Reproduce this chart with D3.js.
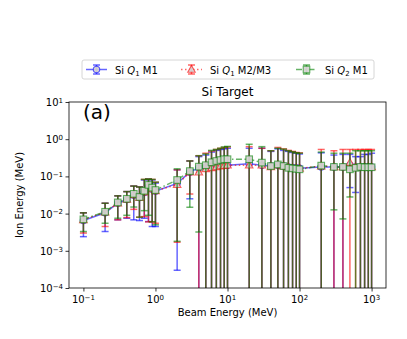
<!DOCTYPE html>
<html>
<head>
<meta charset="utf-8">
<script src="https://cdn.jsdelivr.net/npm/d3@7"></script>
<style>
  body { margin: 0; background: #fff; }
  text { font-family: "DejaVu Sans", sans-serif; fill: #000; }
</style>
</head>
<body>
<svg id="chart" width="407" height="339"></svg>
<script>
// beam energies (MeV)
const beamEnergy = [0.1, 0.2, 0.3, 0.4, 0.5, 0.6, 0.7, 0.8, 0.9, 1,
  2, 3, 4, 5, 6, 7, 8, 9, 10,
  20, 30, 40, 50, 60, 70, 80, 90, 100,
  200, 300, 400, 500, 600, 700, 800, 900, 1000];

// Si Q1 M1 (blue)
const q1m1Ion = [0.0065, 0.0105, 0.019, 0.024, 0.031, 0.027, 0.037, 0.052, 0.045, 0.040,
  0.065, 0.13, 0.17, 0.18, 0.19, 0.2, 0.2, 0.2, 0.2,
  0.22, 0.2, 0.19, 0.2, 0.19, 0.18, 0.17, 0.17, 0.165,
  0.18, 0.18, 0.18, 0.2, 0.18, 0.18, 0.18, 0.18, 0.18];
const q1m1High = [0.0105, 0.019, 0.030, 0.039, 0.055, 0.052, 0.080, 0.085, 0.080, 0.066,
  0.15, 0.26, 0.34, 0.375, 0.45, 0.5, 0.53, 0.55, 0.57,
  0.57, 0.57, 0.47, 0.55, 0.5, 0.47, 0.44, 0.42, 0.4,
  0.43, 0.375, 0.39, 0.39, 0.34, 0.34, 0.39, 0.39, 0.42];
const q1m1Low = [0.0024, 0.0033, 0.0068, 0.0075, 0.0068, 0.0065, 0.0075, 0.0061, 0.0045, 0.0045,
  0.0003, 0.025, 0, 0, 0, 0, 0, 0, 0,
  0, 0, 0, 0, 0, 0, 0, 0, 0,
  0, 0, 0, 0.05, 0.037, 0, 0, 0, 0];

// Si Q1 M2/M3 (red)
const q1m23Ion = [0.0068, 0.011, 0.019, 0.024, 0.032, 0.027, 0.038, 0.054, 0.046, 0.041,
  0.06, 0.13, 0.13, 0.16, 0.17, 0.18, 0.19, 0.195, 0.2,
  0.2, 0.2, 0.18, 0.2, 0.19, 0.18, 0.17, 0.17, 0.165,
  0.19, 0.18, 0.18, 0.235, 0.18, 0.18, 0.18, 0.18, 0.18];
const q1m23High = [0.0105, 0.019, 0.030, 0.039, 0.055, 0.052, 0.083, 0.085, 0.083, 0.070,
  0.15, 0.26, 0.36, 0.42, 0.48, 0.53, 0.57, 0.6, 0.62,
  0.63, 0.57, 0.49, 0.6, 0.55, 0.5, 0.47, 0.44, 0.43,
  0.53, 0.49, 0.53, 0.53, 0.53, 0.53, 0.53, 0.53, 0.53];
const q1m23Low = [0.003, 0.0045, 0.0068, 0.0078, 0.013, 0.008, 0.0083, 0.006, 0.006, 0.0055,
  0.0017, 0.0336, 0, 0, 0, 0, 0, 0, 0,
  0, 0, 0, 0, 0, 0, 0, 0, 0,
  0, 0, 0, 0, 0, 0, 0, 0, 0];

// Si Q2 M1 (green)
const q2m1Ion = [0.0070, 0.0112, 0.020, 0.025, 0.034, 0.028, 0.041, 0.059, 0.050, 0.043,
  0.080, 0.139, 0.183, 0.20, 0.24, 0.26, 0.276, 0.29, 0.29,
  0.29, 0.235, 0.19, 0.21, 0.19, 0.17, 0.164, 0.16, 0.155,
  0.195, 0.18, 0.18, 0.155, 0.17, 0.18, 0.176, 0.176, 0.176];
const q2m1High = [0.0105, 0.019, 0.030, 0.039, 0.055, 0.052, 0.083, 0.085, 0.083, 0.070,
  0.16, 0.26, 0.36, 0.40, 0.50, 0.53, 0.57, 0.62, 0.64,
  0.73, 0.63, 0.49, 0.57, 0.54, 0.49, 0.46, 0.43, 0.42,
  0.45, 0.42, 0.42, 0.42, 0.49, 0.49, 0.49, 0.49, 0.49];
const q2m1Low = [0.0033, 0.0055, 0.0075, 0.009, 0.015, 0.008, 0.012, 0.009, 0.006, 0.005,
  0.0018, 0.0148, 0.0032, 0, 0, 0, 0, 0, 0,
  0, 0, 0, 0, 0, 0, 0, 0, 0,
  0, 0.0126, 0.0072, 0.028, 0, 0, 0, 0, 0];

const xMajorTicks = [1e-1, 1e0, 1e1, 1e2, 1e3];
const yMajorTicks = [1e-4, 1e-3, 1e-2, 1e-1, 1e0, 1e1];

const series = [
  { label: "M1", sub: "1", color: "#0000ff", dash: null, marker: "circle", ion: q1m1Ion, low: q1m1Low, high: q1m1High },
  { label: "M2/M3", sub: "1", color: "#ff0000", dash: "1.5,2.5", marker: "triangle", ion: q1m23Ion, low: q1m23Low, high: q1m23High },
  { label: "M1", sub: "2", color: "#008000", dash: "6,2.5,1.5,2.5", marker: "square", ion: q2m1Ion, low: q2m1Low, high: q2m1High }
];

const svg = d3.select("#chart");
const plot = { left: 69, right: 386, top: 102, bottom: 288 };
const alpha = 0.6;
const markerFill = "#d6d2d2";

const x = d3.scaleLog()
  .domain([Math.pow(10, -1.2), Math.pow(10, 3.2)])
  .range([plot.left, plot.right]);
const y = d3.scaleLog()
  .domain([1e-4, 10])
  .range([plot.bottom, plot.top]);

svg.append("defs").append("clipPath").attr("id", "clip")
  .append("rect")
  .attr("x", plot.left).attr("y", plot.top)
  .attr("width", plot.right - plot.left).attr("height", plot.bottom - plot.top);

// minor ticks for a log scale inside its domain
function minorTicks(scale) {
  const [a, b] = scale.domain();
  const out = [];
  for (let e = Math.floor(Math.log10(a)); e <= Math.ceil(Math.log10(b)); e++) {
    for (let k = 2; k <= 9; k++) {
      const v = k * Math.pow(10, e);
      if (v >= a && v <= b) out.push(v);
    }
  }
  return out;
}

function powLabel(sel, v) {
  const e = Math.round(Math.log10(v));
  sel.text(null);
  sel.append("tspan").text("10");
  sel.append("tspan").attr("dy", "-0.45em").attr("font-size", "7px")
    .text(e < 0 ? "\u2212" + (-e) : e);
}

const data = series.map(s => beamEnergy.map((e, i) => ({ e, v: s.ion[i], lo: s.low[i], hi: s.high[i] })));

const layer = svg.append("g").attr("clip-path", "url(#clip)");

function drawMarker(g, kind, cx, cy) {
  if (kind === "circle") {
    g.append("circle").attr("cx", cx).attr("cy", cy).attr("r", 3.2);
  } else if (kind === "square") {
    g.append("rect").attr("x", cx - 3.3).attr("y", cy - 3.3).attr("width", 6.6).attr("height", 6.6);
  } else {
    g.append("path").attr("d", `M${cx},${cy - 4}L${cx + 3.8},${cy + 2.8}L${cx - 3.8},${cy + 2.8}Z`);
  }
}

series.forEach((s, si) => {
  const g = layer.append("g");
  const pts = data[si];

  // connecting line
  g.append("path")
    .datum(pts)
    .attr("fill", "none")
    .attr("stroke", s.color)
    .attr("stroke-opacity", alpha)
    .attr("stroke-width", 1.5)
    .attr("stroke-dasharray", s.dash)
    .attr("d", d3.line().x(d => x(d.e)).y(d => y(d.v)));

  // error bars
  const eb = g.append("g")
    .attr("stroke", s.color)
    .attr("stroke-opacity", alpha)
    .attr("stroke-width", 1.5);

  pts.forEach(d => {
    const cx = x(d.e);
    const yTop = y(d.hi);
    const yBot = d.lo > 0 ? y(d.lo) : plot.bottom + 5;
    eb.append("line").attr("x1", cx).attr("x2", cx).attr("y1", yTop).attr("y2", yBot);
    eb.append("line").attr("x1", cx - 3.5).attr("x2", cx + 3.5).attr("y1", yTop).attr("y2", yTop);
    if (d.lo > 0) {
      eb.append("line").attr("x1", cx - 3.5).attr("x2", cx + 3.5).attr("y1", yBot).attr("y2", yBot);
    }
  });

  // markers
  const mk = g.append("g")
    .attr("fill", markerFill)
    .attr("fill-opacity", 0.92)
    .attr("stroke", s.color)
    .attr("stroke-opacity", alpha)
    .attr("stroke-width", 1.1);
  pts.forEach(d => drawMarker(mk, s.marker, x(d.e), y(d.v)));
});

// axes frame
svg.append("rect")
  .attr("x", plot.left).attr("y", plot.top)
  .attr("width", plot.right - plot.left).attr("height", plot.bottom - plot.top)
  .attr("fill", "none").attr("stroke", "#000").attr("stroke-width", 0.8);

// x ticks
const xAxis = svg.append("g").attr("transform", `translate(0,${plot.bottom})`);
xAxis.call(d3.axisBottom(x).tickValues(minorTicks(x)).tickSize(2).tickFormat(""));
xAxis.call(d3.axisBottom(x).tickValues(xMajorTicks).tickSize(3.5).tickFormat(""));
xAxis.selectAll(".domain").remove();
xAxis.selectAll("line").attr("stroke-width", 0.8);
xAxis.selectAll(".tick text").remove();
svg.append("g").selectAll("text")
  .data(xMajorTicks)
  .join("text")
  .attr("x", d => x(d))
  .attr("y", 303)
  .attr("text-anchor", "middle")
  .attr("font-size", "10px")
  .each(function (d) { powLabel(d3.select(this), d); });

// y ticks
const yAxis = svg.append("g").attr("transform", `translate(${plot.left},0)`);
yAxis.call(d3.axisLeft(y).tickValues(minorTicks(y)).tickSize(2).tickFormat(""));
yAxis.call(d3.axisLeft(y).tickValues(yMajorTicks).tickSize(3.5).tickFormat(""));
yAxis.selectAll(".domain").remove();
yAxis.selectAll("line").attr("stroke-width", 0.8);
yAxis.selectAll(".tick text").remove();
svg.append("g").selectAll("text")
  .data(yMajorTicks)
  .join("text")
  .attr("x", plot.left - 6)
  .attr("y", d => y(d) + 4)
  .attr("text-anchor", "end")
  .attr("font-size", "10px")
  .each(function (d) { powLabel(d3.select(this), d); });

// titles and labels
svg.append("text")
  .attr("x", (plot.left + plot.right) / 2).attr("y", 96)
  .attr("text-anchor", "middle").attr("font-size", "12px")
  .text("Si Target");

svg.append("text")
  .attr("x", (plot.left + plot.right) / 2).attr("y", 316)
  .attr("text-anchor", "middle").attr("font-size", "10px")
  .text("Beam Energy (MeV)");

svg.append("text")
  .attr("transform", `translate(23,${(plot.top + plot.bottom) / 2}) rotate(-90)`)
  .attr("text-anchor", "middle").attr("font-size", "10px")
  .text("Ion Energy (MeV)");

svg.append("text")
  .attr("x", 83).attr("y", 119)
  .attr("font-family", "DejaVu Serif, serif")
  .attr("font-size", "20px")
  .text("(a)");

// legend
const legend = svg.append("g");
legend.append("rect")
  .attr("x", 82).attr("y", 60).attr("width", 292).attr("height", 19).attr("rx", 2)
  .attr("fill", "#fff").attr("stroke", "#ccc").attr("stroke-width", 0.8);

const legendX = [86, 181, 296];
series.forEach((s, i) => {
  const g = legend.append("g");
  const x0 = legendX[i], x1 = x0 + 21, cx = x0 + 10.5, cy = 69.5;
  const st = g.append("g").attr("stroke", s.color).attr("stroke-opacity", alpha).attr("stroke-width", 1.5);
  st.append("line").attr("x1", x0).attr("x2", x1).attr("y1", cy).attr("y2", cy).attr("stroke-dasharray", s.dash);
  st.append("line").attr("x1", cx).attr("x2", cx).attr("y1", cy - 4.5).attr("y2", cy + 4.5);
  st.append("line").attr("x1", cx - 3.5).attr("x2", cx + 3.5).attr("y1", cy - 4.5).attr("y2", cy - 4.5);
  st.append("line").attr("x1", cx - 3.5).attr("x2", cx + 3.5).attr("y1", cy + 4.5).attr("y2", cy + 4.5);
  const mk = g.append("g").attr("fill", markerFill).attr("fill-opacity", 0.92)
    .attr("stroke", s.color).attr("stroke-opacity", alpha).attr("stroke-width", 1.1);
  drawMarker(mk, s.marker, cx, cy);

  const t = g.append("text").attr("x", x1 + 8).attr("y", 73.5).attr("font-size", "10px");
  t.append("tspan").text("Si ");
  t.append("tspan").attr("font-style", "italic").text("Q");
  t.append("tspan").attr("font-size", "7px").attr("dy", 2.5).text(s.sub);
  t.append("tspan").attr("dy", -2.5).text(" " + s.label);
});
</script>
</body>
</html>
